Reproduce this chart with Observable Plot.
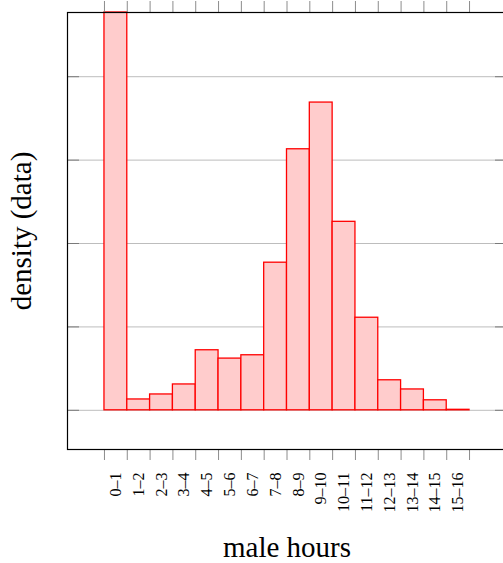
<!DOCTYPE html>
<html>
<head>
<meta charset="utf-8">
<script src="https://cdn.jsdelivr.net/npm/d3@7"></script>
<script src="https://cdn.jsdelivr.net/npm/@observablehq/plot@0.6"></script>
<style>
  html, body { margin: 0; padding: 0; background: #fff; overflow: hidden; }
  #chart svg { display: block; max-width: none !important; height: 563px !important; }
</style>
</head>
<body>
<div id="chart"></div>
<script>
// Hour bins (one hour wide) and the share of men falling in each bin
const binLabels = ["0–1", "1–2", "2–3", "3–4", "4–5", "5–6", "6–7", "7–8",
  "8–9", "9–10", "10–11", "11–12", "12–13", "13–14", "14–15", "15–16"];
const binStart = [0, 1, 2, 3, 4, 5, 6, 7, 8, 9, 10, 11, 12, 13, 14, 15];
const density = [0.2385, 0.0065, 0.0095, 0.0155, 0.036, 0.031, 0.033, 0.0885,
  0.1565, 0.1845, 0.113, 0.0555, 0.018, 0.0125, 0.006, 0.0003];
const binEdges = [0, 1, 2, 3, 4, 5, 6, 7, 8, 9, 10, 11, 12, 13, 14, 15, 16];
const gridTicks = [0, 0.05, 0.1, 0.15, 0.2];

const bins = binLabels.map((label, i) => ({
  label,
  x1: binStart[i],
  x2: binStart[i] + 1,
  mid: binStart[i] + 0.5,
  density: density[i]
}));

const font = "'Liberation Serif', 'DejaVu Serif', serif";

const chart = Plot.plot({
  width: 520,
  height: 563,
  marginLeft: 67,
  marginRight: 14,
  marginTop: 12,
  marginBottom: 114,
  style: { fontFamily: font, background: "#fff", overflow: "visible" },
  x: { type: "linear", domain: [-1.62, 17.62], axis: null },
  y: { domain: [-0.0235, 0.2385], axis: null },
  marks: [
    Plot.gridY(gridTicks, { stroke: "#bdbdbd", strokeOpacity: 1, strokeWidth: 1 }),
    Plot.rectY(bins, {
      x1: "x1", x2: "x2", y: "density",
      fill: "#ffcccc", stroke: "#ff0000", strokeWidth: 1.3
    }),
    // inward ticks on both sides of the value axis
    Plot.axisY(gridTicks, { anchor: "left", tickSize: 12, dx: 12, tickFormat: () => "", label: null, stroke: "#7a7a7a" }),
    Plot.axisY(gridTicks, { anchor: "right", tickSize: 12, dx: -12, tickFormat: () => "", label: null, stroke: "#7a7a7a" }),
    // bin-edge ticks above and below the frame
    Plot.axisX(binEdges, { anchor: "top", tickSize: 12, tickFormat: () => "", label: null, stroke: "#8c8c8c" }),
    Plot.axisX(binEdges, { anchor: "bottom", tickSize: 11, tickFormat: () => "", label: null, stroke: "#8c8c8c" }),
    Plot.frame({ stroke: "#000", strokeWidth: 1.2 }),
    // bin labels, rotated, centred under each bar
    Plot.text(bins, {
      x: "mid", text: "label", frameAnchor: "bottom", dy: 23,
      rotate: -90, textAnchor: "end", lineAnchor: "middle",
      fontSize: 16, fill: "#000"
    }),
    Plot.text(["male hours"], {
      frameAnchor: "bottom", dy: 98, lineAnchor: "middle", textAnchor: "middle",
      fontSize: 29, fill: "#000"
    }),
    Plot.text(["density (data)"], {
      frameAnchor: "left", dx: -46, rotate: -90, lineAnchor: "middle", textAnchor: "middle",
      fontSize: 29, fill: "#000"
    })
  ]
});

document.getElementById("chart").appendChild(chart);
</script>
</body>
</html>
